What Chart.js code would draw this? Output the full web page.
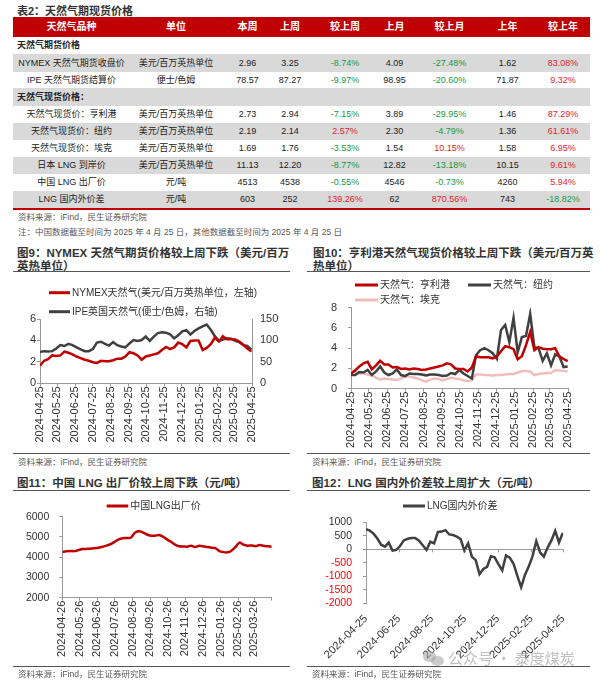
<!DOCTYPE html>
<html><head><meta charset="utf-8">
<script src="https://cdn.jsdelivr.net/npm/chart.js@4.4.1/dist/chart.umd.min.js"></script>
<style>
html,body{margin:0;padding:0;background:#fff;}
body{width:601px;height:683px;position:relative;overflow:hidden;font-family:"Liberation Sans","Noto Sans CJK SC",sans-serif;color:#333;}
.abs{position:absolute;white-space:nowrap;}
.ttl{font-weight:bold;font-size:11.5px;line-height:12.7px;color:#333;}
.src{font-size:8.5px;color:#595959;line-height:10px;}
.hr{position:absolute;height:1.3px;background:#555;}
canvas{position:absolute;}
.row{position:absolute;left:13px;width:577px;font-size:9px;}
.cell{position:absolute;top:0;transform:translateX(-50%);white-space:nowrap;}
.hdr{position:absolute;left:13px;top:17px;width:577px;height:20px;background:#C00000;color:#fff;font-weight:bold;font-size:10px;line-height:20px;}
</style></head><body>

<div class="abs ttl" style="left:17px;top:5px;font-size:11px;">表2：天然气期现货价格</div>
<div id="tbl"></div>
<div class="abs" style="left:13px;top:208px;width:577px;height:1.5px;background:#C00000;"></div>
<div class="abs src" style="left:18px;top:212px;">资料来源：iFind，民生证券研究院</div>
<div class="abs src" style="left:18px;top:226.5px;">注：中国数据截至时间为 2025 年 4 月 25 日，其他数据截至时间为 2025 年 4 月 25 日</div>

<div class="abs ttl" style="left:17px;top:247px;">图9：NYMEX 天然气期货价格较上周下跌（美元/百万<br>英热单位）</div>
<div class="hr" style="left:13px;top:271px;width:277px;"></div>
<div class="abs ttl" style="left:313px;top:247px;">图10：亨利港天然气现货价格较上周下跌（美元/百万英<br>热单位）</div>
<div class="hr" style="left:307px;top:271px;width:283px;"></div>

<canvas id="c9" width="300" height="176" style="left:0;top:276px;"></canvas>
<canvas id="c10" width="300" height="176" style="left:300px;top:276px;"></canvas>

<div class="hr" style="left:13px;top:453px;width:277px;"></div>
<div class="hr" style="left:307px;top:453px;width:283px;"></div>
<div class="abs src" style="left:18px;top:456.5px;">资料来源：iFind，民生证券研究院</div>
<div class="abs src" style="left:312px;top:456.5px;">资料来源：iFind，民生证券研究院</div>

<div class="abs ttl" style="left:17px;top:476.5px;">图11：中国 LNG 出厂价较上周下跌（元/吨）</div>
<div class="hr" style="left:13px;top:489.5px;width:277px;"></div>
<div class="abs ttl" style="left:312px;top:476.5px;">图12：LNG 国内外价差较上周扩大（元/吨）</div>
<div class="hr" style="left:307px;top:489.5px;width:283px;"></div>

<canvas id="c11" width="300" height="173" style="left:0;top:492px;"></canvas>
<canvas id="c12" width="300" height="173" style="left:300px;top:492px;"></canvas>

<div class="hr" style="left:13px;top:665.5px;width:277px;"></div>
<div class="hr" style="left:307px;top:665.5px;width:283px;"></div>
<div class="abs src" style="left:18px;top:668.5px;">资料来源：iFind，民生证券研究院</div>
<div class="abs src" style="left:312px;top:668.5px;">资料来源：iFind，民生证券研究院</div>

<div class="abs" style="left:423px;top:651px;width:13px;height:11px;border-radius:50%;background:rgba(160,160,160,0.55);"></div>
<div class="abs" style="left:431px;top:656px;width:13px;height:10px;border-radius:50%;background:rgba(160,160,160,0.55);"></div>
<div class="abs" style="left:448px;top:648px;font-size:15px;line-height:20px;color:rgba(150,150,150,0.6);font-family:'Noto Sans CJK SC',sans-serif;">公众号 · 泰度煤炭</div>

<script>
// ---------- Table data ----------
const headerLabels = ['天然气品种','单位','本周','上周','较上周','上月','较上月','上年','较上年'];
const itemNames = ['NYMEX 天然气期货收盘价','IPE 天然气期货结算价','天然气现货价：亨利港','天然气现货价：纽约','天然气现货价：埃克','日本 LNG 到岸价','中国 LNG 出厂价','LNG 国内外价差'];
const itemUnits = ['美元/百万英热单位','便士/色姆','美元/百万英热单位','美元/百万英热单位','美元/百万英热单位','美元/百万英热单位','元/吨','元/吨'];
const thisWeek = ['2.96','78.57','2.73','2.19','1.69','11.13','4513','603'];
const lastWeek = ['3.25','87.27','2.94','2.14','1.76','12.20','4538','252'];
const wow = ['-8.74%','-9.97%','-7.15%','2.57%','-3.53%','-8.77%','-0.55%','139.26%'];
const lastMonth = ['4.09','98.95','3.89','2.30','1.54','12.82','4546','62'];
const mom = ['-27.48%','-20.60%','-29.95%','-4.79%','10.15%','-13.18%','-0.73%','870.56%'];
const lastYear = ['1.62','71.87','1.46','1.36','1.58','10.15','4260','743'];
const yoy = ['83.08%','9.32%','87.29%','61.61%','6.95%','9.61%','5.94%','-18.82%'];
const sectionTitles = {0:'天然气期货价格', 2:'天然气现货价格：'};

// ---------- Chart data ----------
const tickLabels9 = ['2024-04-25','2024-05-25','2024-06-25','2024-07-25','2024-08-25','2024-09-25','2024-10-25','2024-11-25','2024-12-25','2025-01-25','2025-02-25','2025-03-25','2025-04-25'];
const nymex = [1.65,2.1,2.25,2.6,2.55,2.6,2.95,2.85,2.7,2.5,2.35,2.2,2.1,1.97,1.9,2.1,2.05,2.05,2.15,2.3,2.3,2.5,2.9,2.8,2.6,2.2,2.5,2.6,2.7,2.8,3.1,3.4,3.2,3.35,3.8,3.65,3.35,3.95,4.0,4.0,3.1,3.3,3.65,4.25,3.9,4.4,4.1,4.1,4.09,3.9,3.6,3.25,2.96];
const ipe = [73,75,74,75,81,89,87,92,89,84,79,75,75,80,95,97,92,88,96,89,86,84,93,101,99,101,109,99,109,117,119,118,114,105,112,121,124,114,122,128,133,137,125,110,99,102,105,104,98.95,96,89,87.27,78.57];
const henry = [1.5,1.8,2.2,2.5,2.65,1.9,2.3,2.75,2.4,2.4,2.1,2.15,1.95,2.0,1.9,2.0,1.95,1.85,1.9,2.0,2.1,2.2,2.3,2.5,2.4,2.0,1.95,1.95,1.7,2.1,3.2,3.1,3.1,3.1,3.0,3.2,3.7,4.2,4.1,3.9,2.9,3.2,4.3,5.6,3.8,4.1,3.95,3.9,3.89,4.0,3.2,2.94,2.73];
const newYork = [1.35,1.35,1.65,1.6,1.85,1.35,1.7,2.2,1.6,1.35,1.5,1.9,1.35,1.25,1.5,1.45,1.45,1.4,1.3,1.4,1.4,1.35,1.25,1.3,1.55,1.45,1.85,1.5,1.25,1.0,3.3,3.8,4.0,3.8,3.5,2.95,5.8,6.3,4.6,7.0,3.6,5.1,5.2,7.4,4.1,4.0,2.75,3.5,2.30,3.4,3.2,2.14,2.19];
const aeco = [1.75,1.65,1.5,1.5,1.4,1.3,1.1,0.9,1.0,0.95,0.9,0.85,1.0,1.2,1.2,1.1,1.0,0.85,0.7,0.9,1.0,0.95,0.85,0.95,1.1,1.0,0.95,0.8,0.75,0.85,1.4,1.4,1.35,1.35,1.3,1.35,1.35,1.4,1.45,1.45,1.6,1.75,1.75,1.7,1.35,1.45,1.5,1.55,1.54,1.85,1.8,1.76,1.69];
const tickLabels11 = ['2024-04-26','2024-05-26','2024-06-26','2024-07-26','2024-08-26','2024-09-26','2024-10-26','2024-11-26','2024-12-26','2025-01-26','2025-02-26','2025-03-26'];
const chinaLng = [4260,4290,4305,4300,4350,4400,4410,4420,4445,4470,4520,4570,4640,4760,4880,4940,4950,4960,5200,5280,5230,5120,5060,5060,5100,5020,4880,4760,4620,4540,4530,4520,4570,4500,4560,4540,4500,4470,4450,4300,4250,4240,4320,4500,4720,4620,4570,4580,4546,4600,4560,4538,4513];
const tickLabels12 = ['2024-04-25','2024-06-25','2024-08-25','2024-10-25','2024-12-25','2025-02-25','2025-04-25'];
const spread = [743,690,580,400,170,100,250,-50,-20,120,330,390,420,420,320,150,-25,280,220,640,655,710,550,530,470,380,-50,220,-280,-400,-920,-730,-650,-260,-300,-550,-780,-230,-310,-540,-980,-1400,-950,-640,-260,300,-110,-270,62,330,680,252,603];

// ---------- Build table ----------
const colCenters = [71.5,176,247.5,290,345,394.5,449.5,507.5,563];
const rowHeights = [17,18,16,18,17,17,17,17,17,17];
const GREEN = '#139A3F', RED = '#E3242B';
(function(){
  const tbl = document.getElementById('tbl');
  const hdr = document.createElement('div'); hdr.className='hdr';
  headerLabels.forEach((h,i)=>{ const s=document.createElement('span'); s.className='cell'; s.style.left=(colCenters[i]-13)+'px'; s.textContent=h; hdr.appendChild(s); });
  tbl.appendChild(hdr);
  const rows = [];
  itemNames.forEach((n,i)=>{
    if (sectionTitles[i] !== undefined) rows.push({section: sectionTitles[i]});
    rows.push({cells:[n,itemUnits[i],thisWeek[i],lastWeek[i],wow[i],lastMonth[i],mom[i],lastYear[i],yoy[i]]});
  });
  let top = 37;
  rows.forEach((r,ri)=>{
    const d = document.createElement('div'); d.className='row';
    const h = rowHeights[ri];
    d.style.top = top+'px'; d.style.height = h+'px'; d.style.lineHeight = h+'px';
    d.style.background = (ri%2===1) ? '#D9D9D9' : '#fff';
    if (r.section) {
      const s=document.createElement('span'); s.style.position='absolute'; s.style.left='4px'; s.style.fontWeight='bold'; s.style.color='#222'; s.textContent=r.section; d.appendChild(s);
    } else {
      r.cells.forEach((c,ci)=>{
        const s=document.createElement('span'); s.className='cell'; s.style.left=(colCenters[ci]-13)+'px'; s.textContent=c;
        if (ci===4||ci===6||ci===8) s.style.color = c.startsWith('-') ? GREEN : RED; else s.style.color='#222';
        d.appendChild(s);
      });
    }
    tbl.appendChild(d);
    top += h;
  });
})();

// ---------- Charts ----------
Chart.defaults.font.family = '"Liberation Sans","Noto Sans CJK SC",sans-serif';
Chart.defaults.color = '#333';
Chart.defaults.animation = false;
const AXIS = '#999';
const DAY = 86400000;
const dayNum = (s, base) => (Date.parse(s+'T00:00:00Z') - Date.parse(base+'T00:00:00Z'))/DAY;
const weekly = (start, n) => { const t0 = Date.parse(start+'T00:00:00Z'); return Array.from({length:n},(_,i)=>new Date(t0+i*7*DAY).toISOString().slice(0,10)); };
const pts = (dates, base, vals) => vals.map((v,i)=>({x: dayNum(dates[i], base), y: v}));
const plain = v => String(v);

const lineLegend = {
  id:'lineLegend',
  afterDraw(chart, args, opts){
    const ctx = chart.ctx;
    (opts.items||[]).forEach((it,i)=>{
      const ds = chart.data.datasets[i];
      ctx.save();
      ctx.strokeStyle = ds.borderColor; ctx.lineWidth = 3;
      ctx.beginPath(); ctx.moveTo(it.x, it.y); ctx.lineTo(it.x+opts.len, it.y); ctx.stroke();
      ctx.fillStyle = '#333'; ctx.font = '10px "Liberation Sans","Noto Sans CJK SC",sans-serif';
      ctx.textBaseline = 'middle'; ctx.textAlign='left';
      ctx.fillText(ds.label, it.x+opts.len+2, it.y+0.5);
      ctx.restore();
    });
  }
};
const zeroTicks = {
  id:'zeroTicks',
  afterDatasetsDraw(chart){
    const xs = chart.scales.x, ys = chart.scales.y, ctx = chart.ctx;
    const y0 = ys.getPixelForValue(0);
    ctx.save(); ctx.strokeStyle = AXIS; ctx.lineWidth = 1;
    xs.ticks.forEach(t=>{ const px = Math.round(xs.getPixelForValue(t.value))+0.5; ctx.beginPath(); ctx.moveTo(px,y0); ctx.lineTo(px,y0+3); ctx.stroke(); });
    ctx.restore();
  }
};

function xAxis(base, tickDates, labels, min, max, o){
  return {
    type:'linear', min, max,
    afterBuildTicks: s => { s.ticks = tickDates.map(d=>({value: dayNum(d, base)})); },
    afterFit: s => { s.height = o.h; },
    border: {display: o.border!==false, color: AXIS},
    grid: {display: o.grid!==false, drawOnChartArea:false, tickLength:3, color:AXIS},
    ticks: {autoSkip:false, maxRotation:o.rot, minRotation:o.rot, padding:o.pad, font:{size:11}, color:'#333',
      callback: (v,i) => labels[i] !== undefined ? labels[i] : ''}
  };
}
function line(label, data, color){
  return {label, data, borderColor:color, backgroundColor:color, borderWidth:2.5, pointRadius:0, tension:0, fill:false};
}

// Chart 9
const base9 = '2024-04-25';
const dates9 = weekly(base9, nymex.length);
new Chart(document.getElementById('c9'), {
  type:'line',
  data:{datasets:[
    Object.assign(line('NYMEX天然气(美元/百万英热单位，左轴)', pts(dates9, base9, nymex), '#C00000'), {yAxisID:'y', order:1}),
    Object.assign(line('IPE英国天然气(便士/色姆，右轴)', pts(dates9, base9, ipe), '#404040'), {yAxisID:'y1', order:2})
  ]},
  options:{
    responsive:false, maintainAspectRatio:false,
    layout:{padding:{top:43, right:0, left:0, bottom:0}},
    plugins:{legend:{display:false}, tooltip:{enabled:false}, lineLegend:{len:21, items:[{x:49,y:16.7},{x:49,y:35.7}]}},
    scales:{
      x: xAxis(base9, tickLabels9, tickLabels9, 0, 365, {h:68.7, rot:90, pad:0}),
      y: {min:0, max:6, ticks:{stepSize:2, autoSkip:false, callback:plain, padding:1, font:{size:11}, color:'#333'}, afterFit:s=>{s.width=40;}, border:{color:AXIS}, grid:{drawOnChartArea:false, tickLength:3, color:AXIS}},
      y1:{position:'right', min:0, max:150, ticks:{stepSize:50, autoSkip:false, callback:plain, padding:8, font:{size:11}, color:'#333'}, afterFit:s=>{s.width=48;}, border:{color:AXIS}, grid:{drawOnChartArea:false, tickLength:0, color:AXIS}}
    }
  },
  plugins:[lineLegend]
});

// Chart 10
new Chart(document.getElementById('c10'), {
  type:'line',
  data:{datasets:[
    Object.assign(line('天然气：亨利港', pts(dates9, base9, henry), '#C00000'), {order:1}),
    Object.assign(line('天然气：纽约', pts(dates9, base9, newYork), '#404040'), {order:2}),
    Object.assign(line('天然气：埃克', pts(dates9, base9, aeco), '#F0BDBD'), {order:3})
  ]},
  options:{
    responsive:false, maintainAspectRatio:false,
    layout:{padding:{top:31.7, right:31.7, left:0, bottom:0}},
    plugins:{legend:{display:false}, tooltip:{enabled:false}, lineLegend:{len:23, items:[{x:55,y:9},{x:168,y:9},{x:55,y:24}]}},
    scales:{
      x: xAxis(base9, tickLabels9, tickLabels9, 0, 365, {h:63.3, rot:90, pad:0}),
      y: {min:0, max:8, ticks:{stepSize:2, autoSkip:false, callback:plain, padding:11, font:{size:11}, color:'#333'}, afterFit:s=>{s.width=51;}, border:{color:AXIS}, grid:{drawOnChartArea:false, tickLength:3, color:AXIS}}
    }
  },
  plugins:[lineLegend]
});

// Chart 11
const base11 = '2024-04-26';
const dates11 = weekly(base11, chinaLng.length);
const ticks11 = tickLabels11.concat(['2025-04-25']);
new Chart(document.getElementById('c11'), {
  type:'line',
  data:{datasets:[ Object.assign(line('中国LNG出厂价', pts(dates11, base11, chinaLng), '#C00000'), {tension:0.3}) ]},
  options:{
    responsive:false, maintainAspectRatio:false,
    layout:{padding:{top:24.7, right:28.3, left:0, bottom:0}},
    plugins:{legend:{display:false}, tooltip:{enabled:false}, lineLegend:{len:21.6, items:[{x:106.7,y:14}]}},
    scales:{
      x: xAxis(base11, ticks11, tickLabels11, 0, 364, {h:67.3, rot:90, pad:0}),
      y: {min:2000, max:6000, ticks:{stepSize:1000, autoSkip:false, callback:plain, padding:10, font:{size:10.5}, color:'#333'}, afterFit:s=>{s.width=62.3;}, border:{color:AXIS}, grid:{drawOnChartArea:false, tickLength:3, color:AXIS}}
    }
  },
  plugins:[lineLegend]
});

// Chart 12
new Chart(document.getElementById('c12'), {
  type:'line',
  data:{datasets:[ line('LNG国内外价差', pts(dates9, base9, spread), '#404040') ]},
  options:{
    responsive:false, maintainAspectRatio:false,
    layout:{padding:{top:30.3, right:36.7, left:0, bottom:0}},
    plugins:{legend:{display:false}, tooltip:{enabled:false}, lineLegend:{len:22, items:[{x:103,y:14}]}},
    scales:{
      x: xAxis(base9, tickLabels12, tickLabels12, 0, 365, {h:61.7, rot:45, pad:6, border:false, grid:false}),
      y: {min:-2000, max:1000, ticks:{stepSize:500, autoSkip:false, callback:plain, padding:11, font:{size:10.5}, color: c => (c.tick && c.tick.value < 0) ? '#FF0000' : '#333'},
          afterFit:s=>{s.width=66;}, border:{color:AXIS},
          grid:{drawOnChartArea:true, tickLength:3, tickColor:AXIS, color: c => (c.tick && c.tick.value === 0) ? AXIS : 'rgba(0,0,0,0)'}}
    }
  },
  plugins:[lineLegend, zeroTicks]
});
</script>
</body></html>
